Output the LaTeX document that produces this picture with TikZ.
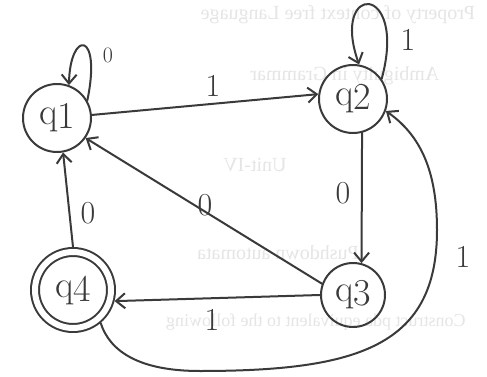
\documentclass[tikz,border=0pt]{standalone}
\usepackage{fontspec}
\newfontfamily\bgfont{Liberation Serif}
\usetikzlibrary{arrows.meta}
\definecolor{inkc}{HTML}{3A3A3A}
\newcommand\qlab[1]{q\kern-0.5pt\raisebox{-4pt}{#1}}
\begin{document}
\begin{tikzpicture}[x=1pt,y=-1pt,
  ink/.style={draw=inkc, line width=2pt, line cap=round, line join=round},
  st/.style={ink, circle, minimum size=68pt, inner sep=0pt, text=inkc, font=\fontsize{38}{38}\selectfont},
  lab/.style={text=inkc, font=\fontsize{32}{32}\selectfont, inner sep=0pt},
  smalllab/.style={text=inkc, font=\fontsize{22}{22}\selectfont, inner sep=0pt},
  bgtext/.style={text=gray!20, font=\bgfont\fontsize{20}{20}\selectfont, xscale=-1, inner sep=0pt},
  >={Straight Barb[length=9pt,width=15pt]}]
\fill[white] (0,0) rectangle (487,377);
\useasboundingbox (0,0) rectangle (487,377);
% faint bleed-through from the back of the page (mirrored)
\node[bgtext] (t1) at (338,15) {Property of context free Language};
\node[bgtext] (t2) at (345,76) {Ambiguity in Grammar};
\node[bgtext] (t3) at (255,165) {Unit-IV};
\node[bgtext] (t4) at (278,253) {Pushdown automata};
\node[bgtext, font=\bgfont\fontsize{18}{18}\selectfont] (t5) at (316,322) {Construct pda equivalent to the following};
% states
\node[st] (q1) at (57,118) {\qlab{1}};
\node[st] (q2) at (353,99) {\qlab{2}};
\node[st, minimum size=64pt] (q3) at (353,295) {\qlab{3}};
\node[st, double, double distance=6pt, minimum size=76pt, outer sep=5pt] (q4) at (73,290) {\qlab{4}};
\coordinate (b1) at (200,371);
\coordinate (b2) at (437,230);
% transitions
\draw[ink,->] (q1.30) .. controls (102,30) and (70,30) .. (q1.70);
\node[smalllab] (l11) at (108,55) {0};
\draw[ink,->] (q1.5) -- (q2.172);
\node[lab] (l12) at (213,86) {1};
\draw[ink,->] (q2.35) .. controls (408,-18) and (330,-18) .. (q2.80);
\node[lab] (l22) at (408,40) {1};
\draw[ink,->] (q2.285) -- (q3.75);
\node[lab] (l23) at (343,193) {0};
\draw[ink,->] (q3.160) -- (q1.-35);
\node[lab] (l31) at (205,205) {0};
\draw[ink,->] (q4.north) -- (q1.-80);
\node[lab] (l41) at (88,213) {0};
\draw[ink,->] (q3.180) -- (q4.-15);
\node[lab] (l34) at (212,320) {1};
\draw[ink,->] (q4.-50) .. controls (110,352) and (140,371) .. (b1)
  .. controls (360,371) and (437,345) .. (b2)
  .. controls (437,170) and (420,135) .. (q2.-20);
\node[lab] (l42) at (463,257) {1};
\end{tikzpicture}
\end{document}
